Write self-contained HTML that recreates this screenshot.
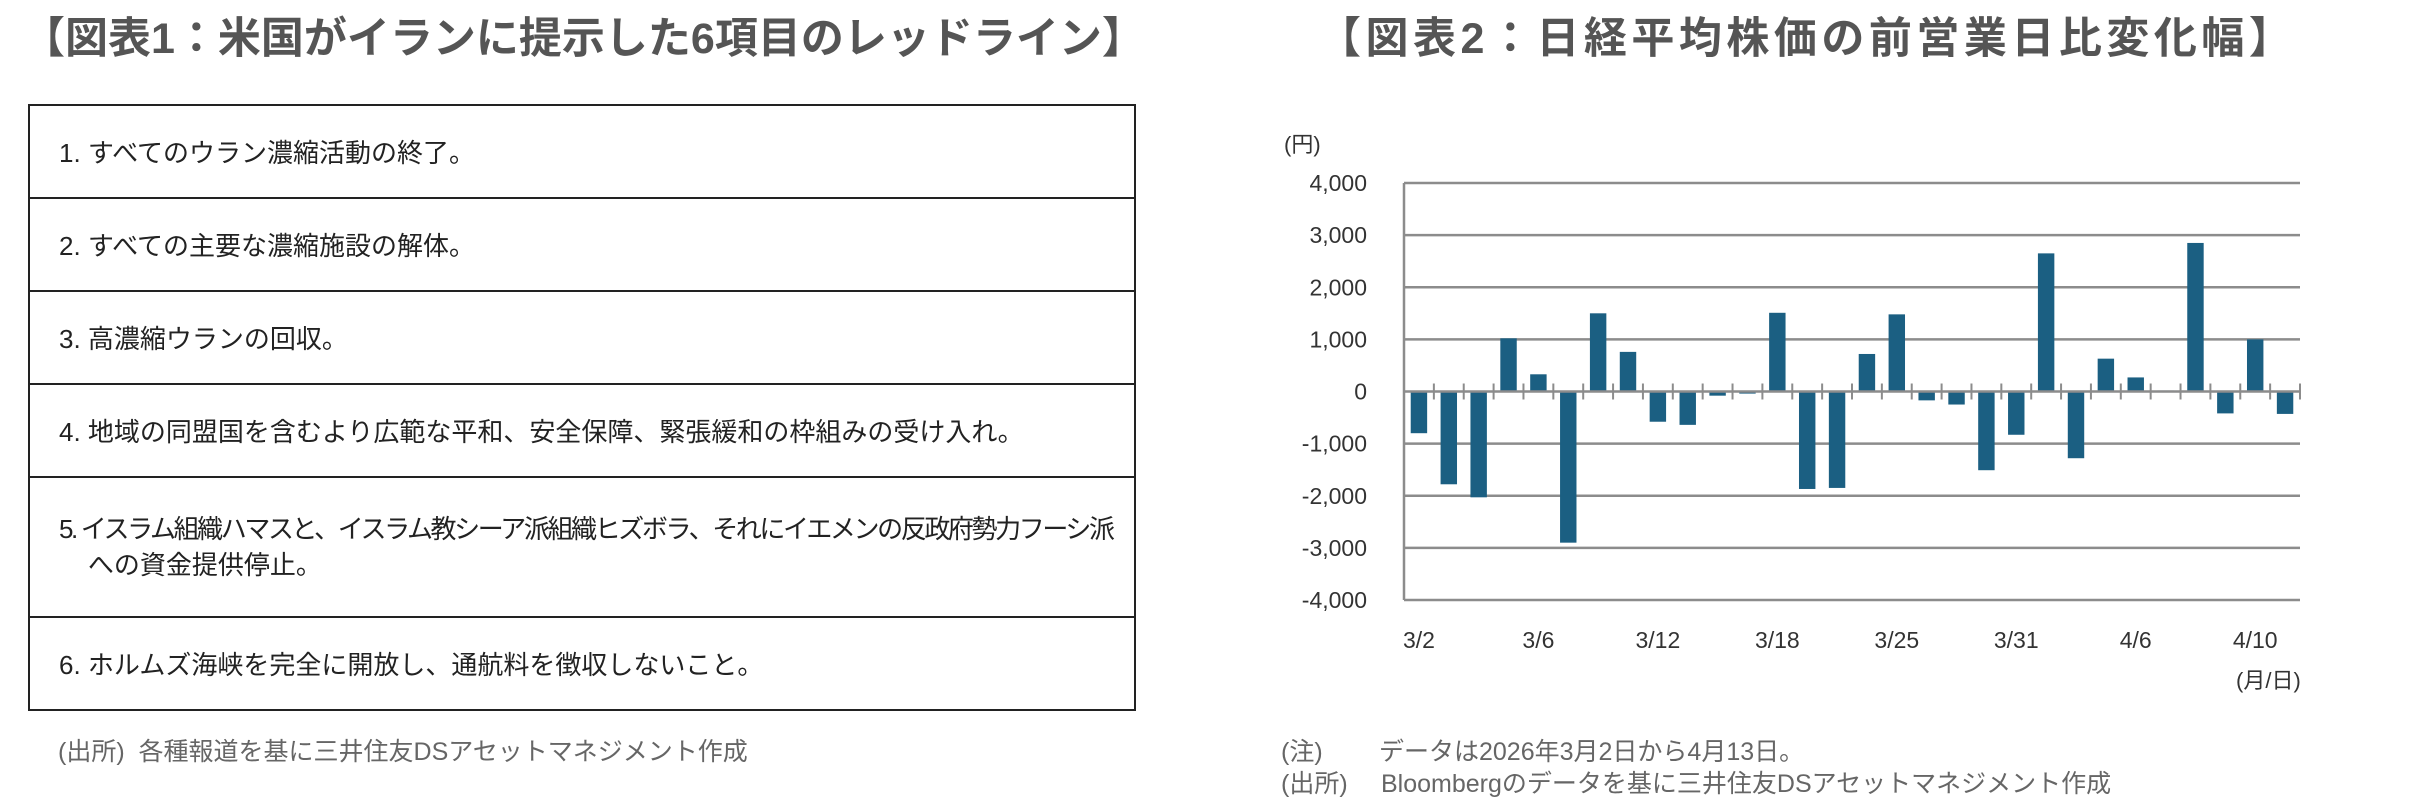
<!DOCTYPE html>
<html><head><meta charset="utf-8"><style>
html,body{margin:0;padding:0;background:#fff;}
body{width:2419px;height:812px;position:relative;overflow:hidden;font-family:"Liberation Sans","Noto Sans CJK JP",sans-serif;}
.t{position:absolute;white-space:nowrap;}
.title{font-size:43px;font-weight:bold;color:#555;top:4px;}
.tbl{position:absolute;left:28px;top:104px;width:1104px;border:2px solid #222;}
.row{border-bottom:2px solid #222;box-sizing:border-box;padding-left:29px;font-size:26px;color:#222;display:flex;align-items:center;}
.row:last-child{border-bottom:none;}
.src{font-size:25px;color:#666;}
</style></head><body>
<div class="t title" style="left:22px;">【図表1：米国がイランに提示した6項目のレッドライン】</div>
<div class="tbl">
<div class="row" style="height:93px">1. すべてのウラン濃縮活動の終了。</div>
<div class="row" style="height:93px">2. すべての主要な濃縮施設の解体。</div>
<div class="row" style="height:93px">3. 高濃縮ウランの回収。</div>
<div class="row" style="height:93px">4. 地域の同盟国を含むより広範な平和、安全保障、緊張緩和の枠組みの受け入れ。</div>
<div class="row" style="height:140px;line-height:36px;"><div><span style="letter-spacing:-2.4px">5. イスラム組織ハマスと、イスラム教シーア派組織ヒズボラ、それにイエメンの反政府勢力フーシ派</span><br>&nbsp;&nbsp;&nbsp;&nbsp;への資金提供停止。</div></div>
<div class="row" style="height:91px">6. ホルムズ海峡を完全に開放し、通航料を徴収しないこと。</div>
</div>
<div class="t src" style="left:58px;top:732px;">(出所)&nbsp; 各種報道を基に三井住友DSアセットマネジメント作成</div>

<div class="t title" style="left:1318px;letter-spacing:4.5px;">【図表2：日経平均株価の前営業日比変化幅】</div>
<svg id="ch" width="2419" height="812" style="position:absolute;left:0;top:0" xmlns="http://www.w3.org/2000/svg"></svg>
<div class="t src" style="left:1281px;top:732px;">(注)</div>
<div class="t src" style="left:1379px;top:732px;">データは2026年3月2日から4月13日。</div>
<div class="t src" style="left:1281px;top:764px;">(出所)</div>
<div class="t src" style="left:1381px;top:764px;">Bloombergのデータを基に三井住友DSアセットマネジメント作成</div>
<script>
var vals=[-800,-1780,-2030,1020,330,-2900,1500,760,-580,-640,-80,-40,1510,-1870,-1850,720,1480,-170,-250,-1510,-830,2650,-1280,630,270,20,2850,-420,1000,-430];
var L=1404,R=2300,T=183,B=600,Z=(T+B)/2,k=(B-T)/8000,cw=(R-L)/30;
var s='';
for(var i=-4;i<=4;i++){var y=Z-i*1000*k;
 if(i!=0)s+='<line x1="'+L+'" x2="'+R+'" y1="'+y+'" y2="'+y+'" stroke="#8c8c8c" stroke-width="2.5"/>';
 s+='<text x="1367" y="'+(y+8)+'" text-anchor="end" font-size="23" fill="#333" font-family="Liberation Sans,sans-serif">'+(i==0?'0':(i<0?'-':'')+Math.abs(i)+',000')+'</text>';}
s+='<line x1="'+L+'" x2="'+L+'" y1="'+T+'" y2="'+B+'" stroke="#8c8c8c" stroke-width="2.5"/>';
var bw=cw*0.55;
for(var i=0;i<30;i++){var v=vals[i],cx=L+cw*(i+0.5),y1=Z-Math.max(v,0)*k,h=Math.abs(v)*k;
 s+='<rect x="'+(cx-bw/2)+'" y="'+y1+'" width="'+bw+'" height="'+h+'" fill="#1b5f82"/>';}
s+='<line x1="'+L+'" x2="'+R+'" y1="'+Z+'" y2="'+Z+'" stroke="#8c8c8c" stroke-width="2.5"/>';
for(var i=1;i<=30;i++){var x=L+cw*i;s+='<line x1="'+x+'" x2="'+x+'" y1="'+(Z-8)+'" y2="'+(Z+8)+'" stroke="#8c8c8c" stroke-width="2"/>';}
var labs=['3/2','3/6','3/12','3/18','3/25','3/31','4/6','4/10'];
for(var j=0;j<8;j++){var cx=L+cw*(j*4+0.5);s+='<text x="'+cx+'" y="648" text-anchor="middle" font-size="23" fill="#333" font-family="Liberation Sans,sans-serif">'+labs[j]+'</text>';}
s+='<text x="1284" y="152" font-size="22" fill="#333" font-family="Liberation Sans,Noto Sans CJK JP,sans-serif">(円)</text>';
s+='<text x="2236" y="688" font-size="22" fill="#333" font-family="Liberation Sans,Noto Sans CJK JP,sans-serif">(月/日)</text>';
document.getElementById('ch').innerHTML=s;
</script>
</body></html>
